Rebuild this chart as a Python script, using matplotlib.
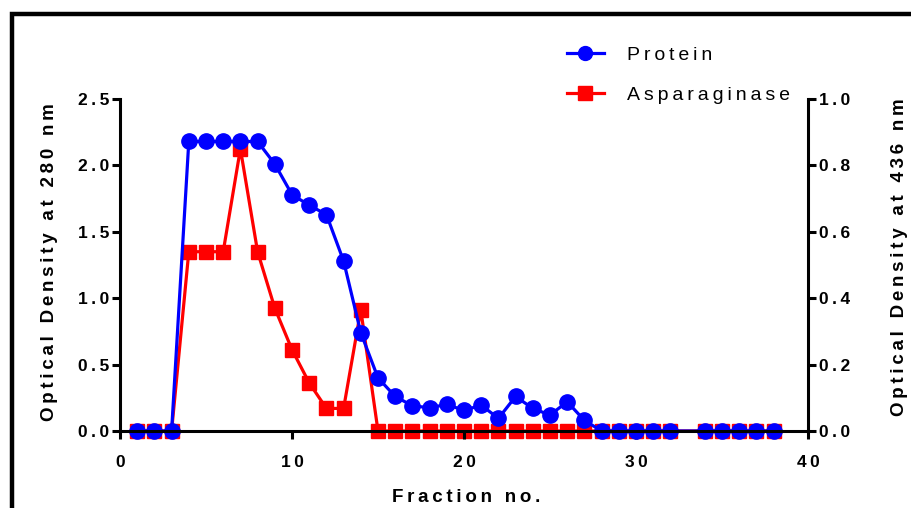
import matplotlib
matplotlib.use("Agg")
import matplotlib.pyplot as plt
from matplotlib.patches import Rectangle
from matplotlib.lines import Line2D

# fraction 33 was not measured
fractions = list(range(1, 33)) + list(range(34, 39))
protein = [0, 0, 0, 2.18, 2.18, 2.18, 2.18, 2.18, 2.01, 1.78, 1.70, 1.63, 1.28, 0.74,
           0.40, 0.26, 0.19, 0.175, 0.20, 0.155, 0.195, 0.095, 0.26, 0.17, 0.12, 0.22, 0.08,
           0, 0, 0, 0, 0, 0, 0, 0, 0, 0]
asparaginase = [0, 0, 0, 0.54, 0.54, 0.54, 0.85, 0.54, 0.37, 0.245, 0.145, 0.068, 0.068, 0.365,
                0, 0, 0, 0, 0, 0, 0, 0, 0, 0, 0, 0, 0,
                0, 0, 0, 0, 0, 0, 0, 0, 0, 0]
x_ticks = [0, 10, 20, 30, 40]
left_ticks = [0.0, 0.5, 1.0, 1.5, 2.0, 2.5]
right_ticks = [0.0, 0.2, 0.4, 0.6, 0.8, 1.0]

plt.rcParams['font.family'] = ['Liberation Sans', 'DejaVu Sans']


def spaced(s):
    # Prism-style wide letter spacing (thin spaces between letters)
    return "\u2009".join(s)


fig = plt.figure(figsize=(9.11, 5.08), dpi=100)
ax = fig.add_axes([120 / 911, 77 / 508, 688 / 911, 332 / 508])
ax2 = ax.twinx()

ax2.plot(fractions, asparaginase, color='#ff0000', lw=2.3, marker='s', ms=10.5,
         clip_on=False, label='Asparaginase')
ax.plot(fractions, protein, color='#0000ff', lw=2.3, marker='o', ms=11,
        clip_on=False, label='Protein')

# protein on top of the red series
ax.set_zorder(ax2.get_zorder() + 1)
ax.patch.set_visible(False)

ax.set_xlim(0, 40)
ax.set_ylim(0, 2.5)
ax2.set_ylim(0, 1.0)

ax.set_xticks(x_ticks, labels=[spaced(str(v)) for v in x_ticks])
ax.set_yticks(left_ticks, labels=[spaced(f"{v:.1f}") for v in left_ticks])
ax2.set_yticks(right_ticks, labels=[spaced(f"{v:.1f}") for v in right_ticks])

for a in (ax, ax2):
    a.spines['top'].set_visible(False)
    for sp in a.spines.values():
        sp.set_linewidth(2.2)
    a.tick_params(width=2.2, length=6, pad=2, labelsize=12.5)
    for lab in a.get_xticklabels() + a.get_yticklabels():
        lab.set_fontweight('bold')
ax.tick_params(axis='x', pad=11)
ax.spines['right'].set_visible(False)
ax2.spines['left'].set_visible(False)
ax2.spines['bottom'].set_visible(False)

lab_kw = dict(fontsize=13.5, fontweight='bold')
fig.text(466 / 911, 1 - 497 / 508, spaced("Fraction no."), ha='center', va='center', **lab_kw)
fig.text(50 / 911, 1 - 262 / 508, spaced("Optical Density at 280 nm"), rotation=90,
         ha='center', va='center', **lab_kw)
fig.text(899 / 911, 1 - 257 / 508, spaced("Optical Density at 436 nm"), rotation=90,
         ha='center', va='center', **lab_kw)

handles = [Line2D([], [], color='#0000ff', lw=2.3, marker='o', ms=10),
           Line2D([], [], color='#ff0000', lw=2.3, marker='s', ms=10)]
fig.legend(handles, [spaced("Protein"), spaced("Asparaginase")], loc='upper left',
           bbox_to_anchor=(567 / 911, 1 - 46 / 508), frameon=False, fontsize=14,
           handlelength=1.9, handletextpad=1.2, labelspacing=1.15, borderpad=0,
           borderaxespad=0)

# black frame around the figure, cut at right and bottom
fig.patches.append(Rectangle((12 / 911, -0.1), 1.0, 1.1 - 14 / 508, transform=fig.transFigure,
                             fill=False, lw=3.2, color='black'))

fig.savefig("out.png", dpi=100)
